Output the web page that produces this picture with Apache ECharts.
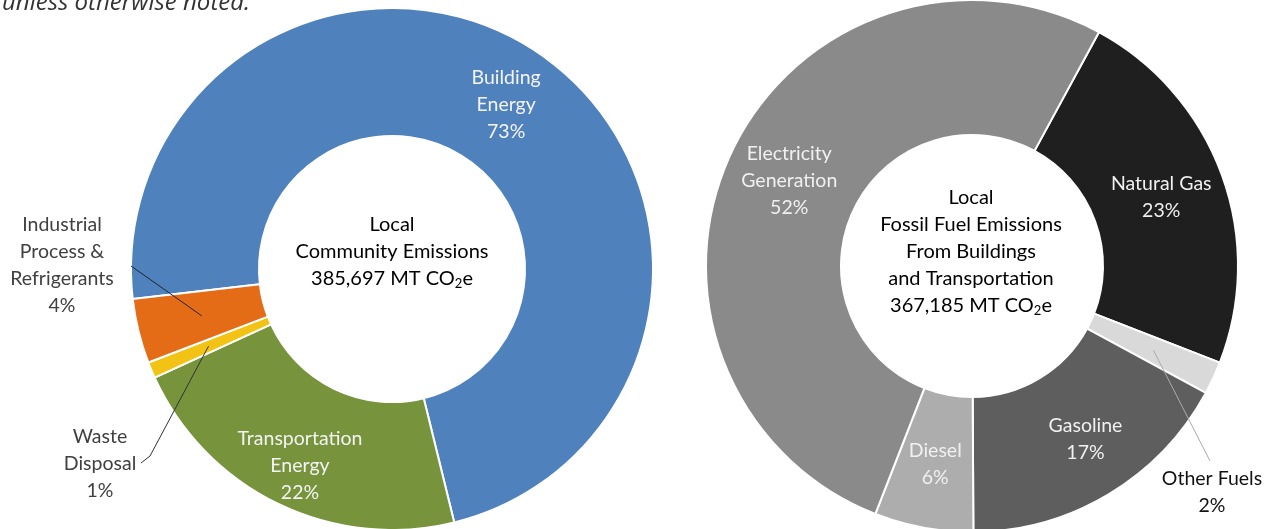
<!DOCTYPE html>
<html lang="en" style="height: 100%">
  <head>
    <meta charset="utf-8" />
  </head>
  <body style="height: 100%; margin: 0; background: #fff">
    <div id="container" style="width: 1275px; height: 529px"></div>

    <script src="https://cdn.jsdelivr.net/npm/echarts@6/dist/echarts.min.js"></script>

    <script type="text/javascript">
      // left donut: local community emissions (%)
      var communityCategories = ["Building Energy", "Transportation Energy", "Waste Disposal", "Industrial Process & Refrigerants"];
      var communityLabels = ["Building\nEnergy", "Transportation\nEnergy", "Waste\nDisposal", "Industrial\nProcess &\nRefrigerants"];
      var communityValues = [73, 22, 1, 4];
      var communityColors = ["#4f81bd", "#77933c", "#f2c314", "#e46c17"];

      // right donut: fossil fuel emissions from buildings and transportation (%)
      var fuelCategories = ["Natural Gas", "Other Fuels", "Gasoline", "Diesel", "Electricity Generation"];
      var fuelLabels = ["Natural Gas", "Other Fuels", "Gasoline", "Diesel", "Electricity\nGeneration"];
      var fuelValues = [23, 2, 17, 6, 52];
      var fuelColors = ["#1f1f1f", "#d9d9d9", "#5e5e5e", "#adadad", "#8a8a8a"];

      var FONT = "Lato, 'Noto Sans', sans-serif";

      var left = { center: [392, 269], r0: 133, r: 261, start: 186.6 };
      var right = { center: [972, 266], r0: 131, r: 266, start: 61.5 };

      // point on a slice at its mid angle, at radius rr
      function slicePoint(g, values, idx, rr) {
        var total = values.reduce(function (a, b) { return a + b; }, 0);
        var before = 0;
        for (var i = 0; i < idx; i++) before += values[i];
        var mid = (before + values[idx] / 2) / total * 360;
        var a = (g.start - mid) * Math.PI / 180;
        return [g.center[0] + rr * Math.cos(a), g.center[1] - rr * Math.sin(a)];
      }

      // outside labels and their leader lines
      var outsideLabels = {
        "Industrial Process & Refrigerants": { x: 62, y: 265, end: [131, 266], rr: 196, stroke: "#1c2433" },
        "Waste Disposal": { x: 100, y: 464, end: [141, 463], hook: [150, 456], rr: 199, stroke: "#333" },
        "Other Fuels": { x: 1212, y: 492, end: [1210, 461], rr: 200, stroke: "#ababab" }
      };

      function buildData(cats, labels, values, colors) {
        return cats.map(function (c, i) {
          var isOut = !!outsideLabels[c];
          return {
            name: c,
            value: values[i],
            text: labels[i],
            itemStyle: { color: colors[i] },
            label: isOut
              ? { position: "outside", color: c === "Other Fuels" ? "#111" : "#404040" }
              : { position: "inside" },
            labelLine: { show: false }
          };
        });
      }

      function layoutFor(cats, tweaks) {
        return function (params) {
          var name = cats[params.dataIndex];
          var o = outsideLabels[name];
          if (o) return { x: o.x, y: o.y, align: "center", verticalAlign: "middle" };
          return tweaks[name] || {};
        };
      }

      function leaderLines(g, cats, values) {
        var out = [];
        cats.forEach(function (c, i) {
          var o = outsideLabels[c];
          if (!o) return;
          var inner = slicePoint(g, values, i, o.rr);
          var pts = o.hook ? [inner, o.hook, o.end] : [inner, o.end];
          out.push({
            type: "polyline",
            z: 100,
            silent: true,
            shape: { points: pts },
            style: { stroke: o.stroke, lineWidth: 1, fill: null }
          });
        });
        return out;
      }

      function pieSeries(g, cats, labels, values, colors, tweaks, txtColor) {
        return {
          type: "pie",
          center: g.center,
          radius: [g.r0, g.r],
          startAngle: g.start,
          clockwise: true,
          avoidLabelOverlap: false,
          silent: true,
          animation: false,
          itemStyle: { borderColor: "#fff", borderWidth: 2 },
          label: {
            show: true,
            fontFamily: FONT,
            fontSize: 19.5,
            lineHeight: 27,
            color: txtColor,
            align: "center",
            formatter: function (p) {
              return p.data.text + "\n" + p.value + "%";
            }
          },
          labelLayout: layoutFor(cats, tweaks),
          data: buildData(cats, labels, values, colors)
        };
      }

      var dom = document.getElementById("container");
      var myChart = echarts.init(dom, null, { renderer: "canvas" });

      var centerRich = {
        t: { fontFamily: FONT, fontSize: 20, lineHeight: 27, color: "#111" },
        s: { fontFamily: FONT, fontSize: 13, lineHeight: 27, color: "#111", padding: [10, 0, 0, 0] }
      };

      var option = {
        backgroundColor: "#fff",
        graphic: [
          {
            type: "text",
            x: 2,
            y: 15,
            style: {
              text: "unless otherwise noted.",
              font: "italic 24px 'Open Sans', sans-serif",
              fill: "#333",
              textVerticalAlign: "bottom"
            }
          },
          {
            type: "text",
            x: left.center[0],
            y: 252,
            style: {
              text: "{t|Local}\n{t|Community Emissions}\n{t|385,697 MT CO}{s|2}{t|e}",
              rich: centerRich,
              textAlign: "center",
              textVerticalAlign: "middle"
            }
          },
          {
            type: "text",
            x: 971,
            y: 252,
            style: {
              text: "{t|Local}\n{t|Fossil Fuel Emissions}\n{t|From Buildings}\n{t|and Transportation}\n{t|367,185 MT CO}{s|2}{t|e}",
              rich: centerRich,
              textAlign: "center",
              textVerticalAlign: "middle"
            }
          }
        ]
          .concat(leaderLines(left, communityCategories, communityValues))
          .concat(leaderLines(right, fuelCategories, fuelValues)),
        series: [
          pieSeries(left, communityCategories, communityLabels, communityValues, communityColors,
            { "Transportation Energy": { dx: -5, dy: 17 } }, "#f4f4f4"),
          pieSeries(right, fuelCategories, fuelLabels, fuelValues, fuelColors,
            { "Gasoline": { dx: 10 } }, "#f0f0f0")
        ]
      };

      myChart.setOption(option);
      window.addEventListener("resize", myChart.resize);
    </script>
  </body>
</html>
